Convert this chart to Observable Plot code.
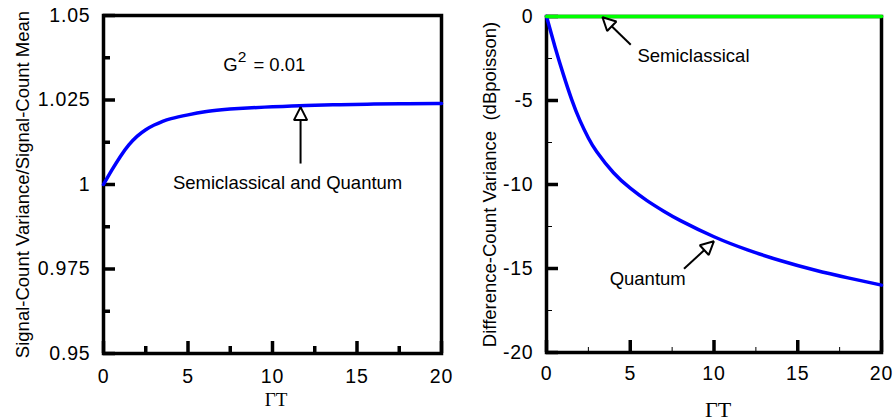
<!DOCTYPE html>
<html><head><meta charset="utf-8">
<script src="https://cdn.jsdelivr.net/npm/d3@7"></script>
<script src="https://cdn.jsdelivr.net/npm/@observablehq/plot@0.6"></script>
<style>
html,body{margin:0;padding:0;background:#fff;}
#wrap{position:relative;width:896px;height:420px;overflow:hidden;background:#fff;}
#wrap svg{position:absolute;top:0;overflow:visible;}
#wrap g[aria-label="y-axis tick label"], #wrap g[aria-label="x-axis tick label"]{letter-spacing:0.8px;}
</style></head><body><div id="wrap"></div>
<script>
// ---- Left panel: signal-count variance / signal-count mean (semiclassical = quantum)
const gammaT = [0, 0.5, 1, 1.5, 2, 2.5, 3, 3.5, 4, 5, 6, 7, 8, 10, 12, 14, 16, 18, 20];
const fanoSignal = [1.0, 1.0043, 1.0083, 1.0117, 1.0143, 1.0162, 1.0176, 1.0187, 1.0195, 1.0206, 1.0215, 1.0221, 1.0225, 1.0230, 1.0234, 1.0236, 1.0238, 1.0239, 1.0240];

// ---- Right panel: difference-count variance (dB re Poisson)
const gammaTDiff = [0, 0.5, 1, 1.5, 2, 2.5, 3, 4, 5, 6, 7, 8, 10, 12, 14, 16, 18, 20];
const quantumDb = [0, -1.78, -3.43, -4.93, -6.2, -7.23, -8.05, -9.3, -10.22, -10.96, -11.59, -12.15, -13.11, -13.89, -14.54, -15.09, -15.56, -15.99];
const semiGammaT = [0, 20];
const semiDb = [0, 0];

// ---- Ticks
const xMajor = [0, 5, 10, 15, 20];
const xMinor = [2.5, 7.5, 12.5, 17.5];
const leftYMajor = [0.95, 0.975, 1, 1.025, 1.05];
const leftYLabels = ["0.95", "0.975", "1", "1.025", "1.05"];
const leftYMinor = [0.9625, 0.9875, 1.0125, 1.0375];
const rightYMajor = [-20, -15, -10, -5, 0];
const rightYLabels = ["-20", "-15", "-10", "-5", "0"];
const rightYMinor = [-17.5, -12.5, -7.5, -2.5];

// ---- Texts
const xTitle = "ΓT";
const leftYTitle = "Signal-Count Variance/Signal-Count Mean";
const rightYTitle = "Difference-Count Variance\u00a0 (dBpoisson)";

// ---- Annotations (data coordinates)
const leftNotes = [
  {x: 7.08, y: 1.0337, text: "G", size: 18.5},
  {x: 7.95, y: 1.0363, text: "2", size: 15.5},
  {x: 8.87, y: 1.0337, text: "= 0.01", size: 18.5},
  {x: 4.11, y: 0.9987, text: "Semiclassical and Quantum", size: 18.5}
];
const leftArrows = [{x1: 11.66, y1: 1.0062, x2: 11.66, y2: 1.0229}];
const rightNotes = [
  {x: 5.43, y: -2.72, text: "Semiclassical"},
  {x: 3.77, y: -16.0, text: "Quantum"}
];
const rightArrows = [
  {x1: 5.03, y1: -1.68, x2: 3.34, y2: -0.04},
  {x1: 8.21, y1: -15.02, x2: 9.99, y2: -13.38}
];

const sans = "'Liberation Sans', Arial, Helvetica, sans-serif";
const serif = "'Liberation Serif', 'Times New Roman', serif";
const tickFont = 19.5;

function fmt(values, labels) { return d => labels[values.indexOf(d)]; }

function triangleHeads(svg) {
  const ns = "http://www.w3.org/2000/svg";
  svg.querySelectorAll("marker").forEach(m => {
    m.setAttribute("viewBox", "-16 -9 18 18");
    m.setAttribute("markerWidth", 18);
    m.setAttribute("markerHeight", 18);
    m.setAttribute("markerUnits", "userSpaceOnUse");
    m.setAttribute("refX", 0);
    m.setAttribute("refY", 0);
    m.setAttribute("orient", "auto");
    m.setAttribute("fill", "white");
    m.setAttribute("stroke", "black");
    m.setAttribute("stroke-width", 2);
    m.setAttribute("stroke-linejoin", "miter");
    while (m.firstChild) m.removeChild(m.firstChild);
    const p = document.createElementNS(ns, "path");
    p.setAttribute("d", "M0,0L-13,-6.6L-13,6.6Z");
    m.appendChild(p);
  });
}

const leftData = gammaT.map((x, i) => ({x, y: fanoSignal[i]}));
const left = Plot.plot({
  width: 450, height: 420,
  marginLeft: 103, marginRight: 9, marginTop: 15, marginBottom: 67,
  style: {fontFamily: sans, background: "transparent", color: "black"},
  x: {domain: [0, 20], axis: null},
  y: {domain: [0.95, 1.05], axis: null},
  marks: [
    Plot.frame({strokeWidth: 3.5}),
    Plot.axisY(leftYMajor, {tickSize: -12, strokeWidth: 3.5, tickFormat: () => "", label: null}),
    Plot.axisY(leftYMinor, {tickSize: -7, strokeWidth: 3.5, tickFormat: () => "", label: null}),
    Plot.axisX(xMajor, {tickSize: -12, strokeWidth: 3.5, tickFormat: () => "", label: null}),
    Plot.axisX(xMinor, {tickSize: -7, strokeWidth: 3.5, tickFormat: () => "", label: null}),
    Plot.axisY(leftYMajor, {tickSize: 0, tickPadding: 13, fontSize: tickFont, tickFormat: fmt(leftYMajor, leftYLabels), label: null}),
    Plot.axisX(xMajor, {tickSize: 0, tickPadding: 16, fontSize: tickFont, tickFormat: d => String(d), label: null}),
    Plot.line(leftData, {x: "x", y: "y", stroke: "#0000ff", strokeWidth: 3.5, curve: "natural"}),
    Plot.link(leftArrows, {x1: "x1", y1: "y1", x2: "x2", y2: "y2", stroke: "black", strokeWidth: 2, markerEnd: "arrow"}),
    Plot.text(leftNotes, {x: "x", y: "y", text: "text", fontSize: d => d.size, textAnchor: "start", lineAnchor: "bottom", fill: "black"}),
    Plot.text([leftYTitle], {frameAnchor: "left", rotate: -90, dx: -80, textAnchor: "middle", lineAnchor: "middle", fontSize: 18.5, fill: "black"}),
    Plot.text([xTitle], {frameAnchor: "bottom", dx: 3.5, dy: 52, textAnchor: "middle", lineAnchor: "bottom", fontFamily: serif, fontSize: 19, fill: "black"})
  ]
});
left.style.left = "0px";

const rightData = gammaTDiff.map((x, i) => ({x, y: quantumDb[i]}));
const semiData = semiGammaT.map((x, i) => ({x, y: semiDb[i]}));
const right = Plot.plot({
  width: 446, height: 420,
  marginLeft: 96, marginRight: 15, marginTop: 16, marginBottom: 68,
  style: {fontFamily: sans, background: "transparent", color: "black"},
  x: {domain: [0, 20], axis: null},
  y: {domain: [-20, 0], axis: null},
  marks: [
    Plot.frame({strokeWidth: 3.5}),
    Plot.axisY(rightYMajor, {tickSize: -12, strokeWidth: 3.5, tickFormat: () => "", label: null}),
    Plot.axisY(rightYMinor, {tickSize: -6, strokeWidth: 1, tickFormat: () => "", label: null}),
    Plot.axisX(xMajor, {tickSize: -12, strokeWidth: 3.5, tickFormat: () => "", label: null}),
    Plot.axisX(xMinor, {tickSize: -5, strokeWidth: 1, tickFormat: () => "", label: null}),
    Plot.axisY(rightYMajor, {tickSize: 0, tickPadding: 13, fontSize: tickFont, tickFormat: fmt(rightYMajor, rightYLabels), label: null}),
    Plot.axisX(xMajor, {tickSize: 0, tickPadding: 14, fontSize: tickFont, tickFormat: d => String(d), label: null}),
    Plot.line(rightData, {x: "x", y: "y", stroke: "#0000ff", strokeWidth: 3.5, curve: "natural"}),
    Plot.line(semiData, {x: "x", y: "y", stroke: "#00ff00", strokeWidth: 3.5}),
    Plot.link(rightArrows, {x1: "x1", y1: "y1", x2: "x2", y2: "y2", stroke: "black", strokeWidth: 2, markerEnd: "arrow"}),
    Plot.text(rightNotes, {x: "x", y: "y", text: "text", fontSize: 18.5, textAnchor: "start", lineAnchor: "bottom", fill: "black"}),
    Plot.text([rightYTitle], {frameAnchor: "left", rotate: -90, dx: -56, textAnchor: "middle", lineAnchor: "middle", fontSize: 18.5, fill: "black"}),
    Plot.text([xTitle], {frameAnchor: "bottom", dx: 4, dy: 64, textAnchor: "middle", lineAnchor: "bottom", fontFamily: serif, fontSize: 22, fill: "black"})
  ]
});
right.style.left = "450px";

triangleHeads(left);
triangleHeads(right);
const wrap = document.getElementById("wrap");
wrap.appendChild(left);
wrap.appendChild(right);
</script>
</body></html>
